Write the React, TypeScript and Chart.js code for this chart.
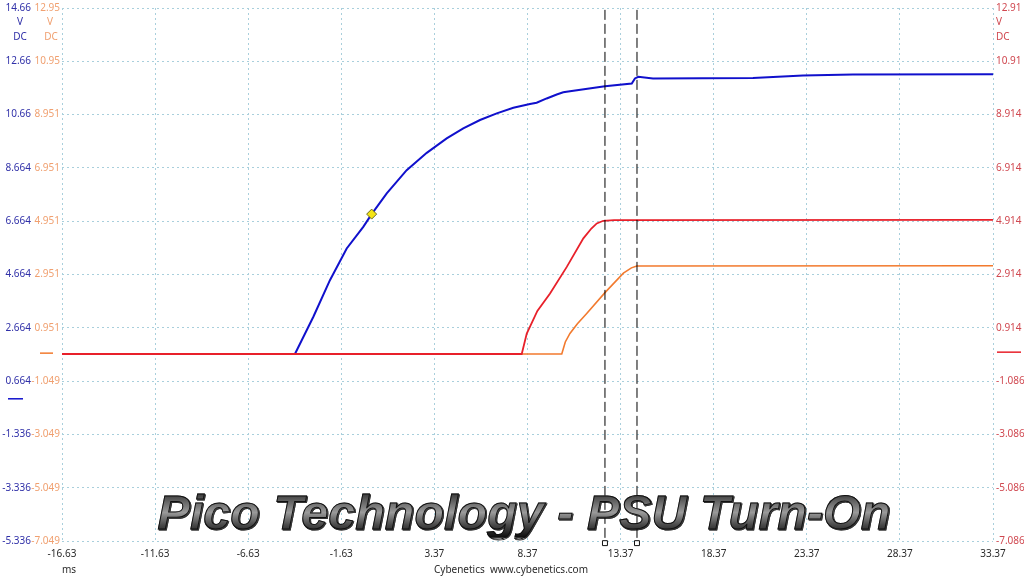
import { useEffect, useRef } from "react";
import { Chart, registerables } from "chart.js";

Chart.register(...registerables);

// time axis, ms
const xMin = -16.63;
const xMax = 33.37;
const xTickLabels = ["-16.63", "-11.63", "-6.63", "-1.63", "3.37", "8.37", "13.37", "18.37", "23.37", "28.37", "33.37"];

// tick labels, bottom to top
const blueTickLabels = ["-5.336", "-3.336", "-1.336", "0.664", "2.664", "4.664", "6.664", "8.664", "10.66", "12.66", "14.66"];
const orangeTickLabels = ["-7.049", "-5.049", "-3.049", "-1.049", "0.951", "2.951", "4.951", "6.951", "8.951", "10.95", "12.95"];
const redTickLabels = ["-7.086", "-5.086", "-3.086", "-1.086", "0.914", "2.914", "4.914", "6.914", "8.914", "10.91", "12.91"];

// 12V rail (blue channel)
const blueTimes = [-16.63, -4.12, -3.13, -2.24, -1.34, -0.45, 0.0, 0.81, 1.88, 2.96, 4.03, 4.92, 5.82, 6.72, 7.61, 8.5, 8.86, 9.4, 9.94, 10.29, 10.65, 12.53, 13.97, 14.14, 14.32, 15.11, 20.48, 23.17, 25.85, 33.37];
const blueVolts = [1.68, 1.68, 3.08, 4.45, 5.64, 6.45, 6.93, 7.71, 8.58, 9.23, 9.77, 10.15, 10.46, 10.71, 10.92, 11.06, 11.11, 11.27, 11.42, 11.5, 11.54, 11.73, 11.83, 12.02, 12.08, 12.02, 12.04, 12.13, 12.17, 12.18];

// 5V rail (red channel)
const redTimes = [-16.63, 8.06, 8.33, 8.9, 9.58, 10.48, 11.37, 11.8, 12.09, 12.44, 13.02, 33.37];
const redVolts = [-0.07, -0.07, 0.7, 1.55, 2.2, 3.2, 4.27, 4.64, 4.83, 4.93, 4.955, 4.96];

// 3.3V rail (orange channel)
const orangeTimes = [-16.63, 10.21, 10.4, 10.65, 11.05, 11.55, 12.53, 13.52, 13.95, 14.24, 33.37];
const orangeVolts = [-0.03, -0.03, 0.42, 0.74, 1.1, 1.49, 2.27, 3.0, 3.2, 3.27, 3.28];

// rulers
const cursorTimes = [12.53, 14.25];
const triggerTime = 0.0;
const triggerVolt = 6.93;

const blueMin = -5.336, blueMax = 14.664;
const orangeMin = -7.049, orangeMax = 12.951;
const redMin = -7.086, redMax = 12.914;

const BLUE = "#1010cc";
const RED = "#e8202a";
const ORANGE = "#f27a2e";
const GRID = "#a9cfdc";
const FONT = "Noto Sans";
const FSIZE = 10;

const toPoints = (xs: number[], ys: number[]) => xs.map((x, i) => ({ x, y: ys[i] }));

const fixY = (w: number) => (s: any) => {
  s.width = w;
  s.paddingTop = 6;
  s.paddingBottom = 6;
};

const decorPlugin = {
  id: "decor",
  afterDraw(chart: any) {
    const ctx = chart.ctx;
    const sb = chart.scales.yBlue;
    const so = chart.scales.yOrange;
    const sr = chart.scales.yRed;
    ctx.save();
    ctx.font = `${FSIZE}px "${FONT}"`;
    ctx.textBaseline = "middle";
    // orange tick column
    ctx.textAlign = "right";
    ctx.fillStyle = "#f0a070";
    orangeTickLabels.forEach((lab, i) => {
      ctx.fillText(lab, 60, so.getPixelForValue(orangeMin + 2 * i));
    });
    // units
    ctx.textAlign = "center";
    ctx.fillStyle = "#3030a8";
    ctx.fillText("V", 20, 22);
    ctx.fillText("DC", 20, 37);
    ctx.fillStyle = "#f0a070";
    ctx.fillText("V", 50, 22);
    ctx.fillText("DC", 51, 37);
    ctx.textAlign = "left";
    ctx.fillStyle = "#d04850";
    ctx.fillText("V", 996, 22);
    ctx.fillText("DC", 996, 37);
    // ground markers
    ctx.lineWidth = 1.5;
    ctx.strokeStyle = BLUE;
    const yb = sb.getPixelForValue(0);
    ctx.beginPath(); ctx.moveTo(8, yb); ctx.lineTo(23, yb); ctx.stroke();
    ctx.strokeStyle = ORANGE;
    const yo = so.getPixelForValue(0);
    ctx.beginPath(); ctx.moveTo(40, yo); ctx.lineTo(53, yo); ctx.stroke();
    ctx.strokeStyle = RED;
    const yr = sr.getPixelForValue(0);
    ctx.beginPath(); ctx.moveTo(997, yr); ctx.lineTo(1021, yr); ctx.stroke();
    ctx.restore();
  },
};

export default function App() {
  const canvasRef = useRef<HTMLCanvasElement>(null);
  const chartRef = useRef<Chart | null>(null);

  useEffect(() => {
    if (!canvasRef.current) return;
    if (chartRef.current) chartRef.current.destroy();
    const ctx = canvasRef.current.getContext("2d");
    if (!ctx) return;

    const tickFont = { family: FONT, size: FSIZE };

    const cursorSets = cursorTimes.map((t) => ({
      type: "line" as const,
      data: [{ x: t, y: blueMax - 0.07 }, { x: t, y: blueMin - 0.08 }],
      yAxisID: "yBlue",
      borderColor: "#000",
      borderWidth: 1,
      borderDash: [10, 4],
      pointRadius: [0, 3.5],
      pointStyle: "rect" as const,
      pointBackgroundColor: "#fff",
      pointBorderColor: "#111",
      pointBorderWidth: 1,
      clip: false as any,
      order: 0,
    }));

    chartRef.current = new Chart(ctx, {
      type: "line",
      data: {
        datasets: [
          ...cursorSets,
          {
            type: "scatter",
            data: [{ x: triggerTime, y: triggerVolt }],
            yAxisID: "yBlue",
            pointStyle: "rectRot",
            pointRadius: 5,
            backgroundColor: "#f5e414",
            borderColor: "#6b6b20",
            borderWidth: 1,
            order: 1,
          },
          {
            label: "A",
            data: toPoints(blueTimes, blueVolts),
            yAxisID: "yBlue",
            borderColor: BLUE,
            borderWidth: 2,
            pointRadius: 0,
            tension: 0,
            order: 4,
          },
          {
            label: "B",
            data: toPoints(orangeTimes, orangeVolts),
            yAxisID: "yOrange",
            borderColor: ORANGE,
            borderWidth: 1.6,
            pointRadius: 0,
            tension: 0,
            order: 3,
          },
          {
            label: "C",
            data: toPoints(redTimes, redVolts),
            yAxisID: "yRed",
            borderColor: RED,
            borderWidth: 1.8,
            pointRadius: 0,
            tension: 0,
            order: 2,
          },
        ],
      },
      options: {
        animation: false,
        responsive: false,
        maintainAspectRatio: false,
        layout: { padding: { top: 8 } },
        plugins: { legend: { display: false }, tooltip: { enabled: false } },
        scales: {
          x: {
            type: "linear",
            position: "bottom",
            min: xMin,
            max: xMax,
            afterFit: (s: any) => { s.height = 35; s.paddingLeft = 10; s.paddingRight = 10; },
            ticks: {
              stepSize: 5,
              color: "#2a2a2a",
              font: tickFont,
              padding: 7,
              maxRotation: 0,
              callback: (_v: any, i: number) => xTickLabels[i],
            },
            grid: { color: GRID, drawTicks: false, lineWidth: 1 },
            border: { display: false, dash: [2, 3] },
          },
          yBlue: {
            type: "linear",
            position: "left",
            min: blueMin,
            max: blueMax,
            afterFit: fixY(62),
            ticks: {
              stepSize: 2,
              color: "#3030a8",
              font: tickFont,
              padding: 31,
              callback: (_v: any, i: number) => blueTickLabels[i],
            },
            grid: { color: GRID, drawTicks: false, lineWidth: 1 },
            border: { display: false, dash: [2, 3] },
          },
          yOrange: {
            type: "linear",
            display: false,
            min: orangeMin,
            max: orangeMax,
          },
          yRed: {
            type: "linear",
            position: "right",
            min: redMin,
            max: redMax,
            afterFit: fixY(31),
            ticks: {
              stepSize: 2,
              color: "#d04850",
              font: tickFont,
              padding: 3,
              callback: (_v: any, i: number) => redTickLabels[i],
            },
            grid: { display: false, drawTicks: false },
            border: { display: false },
          },
        },
      },
      plugins: [decorPlugin],
    } as any);

    return () => {
      if (chartRef.current) {
        chartRef.current.destroy();
        chartRef.current = null;
      }
    };
  }, []);

  return (
    <div style={{ position: "fixed", left: 0, top: 0, width: 1024, height: 576, background: "#fff", overflow: "hidden" }}>
      <canvas ref={canvasRef} width={1024} height={576} style={{ width: 1024, height: 576, display: "block" }} />
      <div
        style={{
          position: "absolute",
          left: 0,
          width: 1048,
          top: 488,
          textAlign: "center",
          fontFamily: "'Liberation Sans', Arial, sans-serif",
          fontWeight: "bold",
          fontStyle: "italic",
          fontSize: 48.5,
          lineHeight: "49px",
          whiteSpace: "nowrap",
          background: "linear-gradient(180deg, #1a1a1a 0%, #6a6a6a 30%, #9a9a9a 50%, #4a4a4a 75%, #0e0e0e 100%)",
          WebkitBackgroundClip: "text",
          backgroundClip: "text",
          color: "transparent",
          WebkitTextStroke: "1px #111",
          filter: "drop-shadow(1px 1px 0.6px rgba(0,0,0,0.8))",
          pointerEvents: "none",
        }}
      >
        Pico Technology - PSU Turn-On
      </div>
      <div style={{ position: "absolute", left: 62, top: 562, fontFamily: FONT, fontSize: FSIZE, color: "#2a2a2a" }}>ms</div>
      <div style={{ position: "absolute", left: 0, width: 1022, top: 562, textAlign: "center", fontFamily: FONT, fontSize: FSIZE, color: "#2a2a2a", whiteSpace: "pre" }}>
        {"Cybenetics  www.cybenetics.com"}
      </div>
    </div>
  );
}
